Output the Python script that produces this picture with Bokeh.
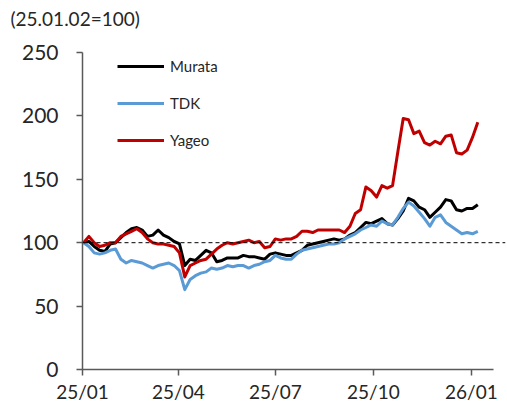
import pandas as pd
from bokeh.plotting import figure
from bokeh.models import (Span, Legend, LegendItem, FixedTicker, Title,
                          Range1d, DatetimeTickFormatter)
from bokeh.embed import file_html
from bokeh.resources import INLINE

# ---- data (index, 2025-01-02 = 100), sampled every 5 days ----
dates = pd.date_range("2025-01-02", periods=75, freq="5D")

murata = [100, 101, 97, 94, 93, 99, 100, 104, 108, 111,
          112, 110, 105, 106, 110, 106, 104, 101, 99, 82,
          87, 86, 90, 94, 92, 85, 86, 88, 88, 88,
          90, 89, 89, 88, 87, 91, 92, 91, 90, 90,
          92, 94, 98, 99, 100, 101, 102, 103, 102, 103,
          106, 108, 112, 116, 115, 117, 119, 115, 114, 119,
          125, 135, 133, 128, 126, 120, 124, 128, 134, 133,
          126, 125, 127, 127, 130]

tdk = [100, 97, 92, 91, 92, 94, 95, 87, 84, 86,
       85, 84, 82, 80, 82, 83, 84, 82, 78, 63,
       71, 74, 76, 77, 80, 79, 80, 82, 81, 82,
       82, 80, 82, 83, 85, 86, 90, 88, 87, 87,
       91, 94, 95, 96, 97, 98, 99, 99, 100, 103,
       105, 107, 110, 112, 114, 113, 117, 115, 114, 120,
       127, 132, 129, 124, 119, 113, 120, 122, 116, 113,
       110, 107, 108, 107, 109]

yageo = [100, 105, 100, 97, 98, 100, 100, 105, 107, 109,
         111, 108, 103, 100, 99, 99, 98, 97, 92, 73,
         82, 84, 86, 87, 91, 95, 98, 100, 99, 100,
         101, 102, 100, 101, 96, 97, 103, 102, 103, 103,
         105, 109, 109, 108, 110, 110, 110, 110, 110, 108,
         113, 123, 126, 144, 141, 136, 145, 143, 145, 172,
         198, 197, 186, 188, 179, 177, 180, 178, 184, 185,
         171, 170, 173, 183, 195]

series_names = ["Murata", "TDK", "Yageo"]
series_colors = ["#000000", "#5B9BD5", "#C00000"]

xtick_dates = ["2025-01-01", "2025-04-01", "2025-07-01", "2025-10-01", "2026-01-01"]
xtick_labels = ["25/01", "25/04", "25/07", "25/10", "26/01"]
ytick_values = [0, 50, 100, 150, 200, 250]
base_value = 100
header = "(25.01.02=100)"

FONT = "Lato"
TEXT = "#262626"
AXIS = "#595959"

x_start = pd.Timestamp("2025-01-01")
x_end = pd.Timestamp("2026-02-02")
axis_end = pd.Timestamp("2026-01-22")

p = figure(width=507, height=415, x_axis_type="datetime",
           x_range=Range1d(x_start, x_end), y_range=Range1d(0, 250),
           output_backend="svg", toolbar_location=None,
           min_border_left=82, min_border_right=2,
           min_border_top=52, min_border_bottom=46)

p.xgrid.visible = False
p.ygrid.visible = False
p.outline_line_color = None
p.background_fill_color = "white"
p.border_fill_color = "white"

renderers = []
for vals, name, col in zip([murata, tdk, yageo], series_names, series_colors):
    r = p.line(dates, vals, line_color=col, line_width=3, line_join="round")
    renderers.append(r)

p.add_layout(Span(location=base_value, dimension="width", line_color="#000000",
                  line_width=1, line_dash="4 3"))

# x axis
tick_ms = [pd.Timestamp(d).value // 10**6 for d in xtick_dates]
xa = p.xaxis[0]
xa.ticker = FixedTicker(ticks=tick_ms)
xa.formatter = DatetimeTickFormatter(days="%y/%m", months="%y/%m", years="%y/%m")
xa.major_label_overrides = {t: l for t, l in zip(tick_ms, xtick_labels)}
xa.bounds = (x_start, axis_end)

ya = p.yaxis[0]
ya.ticker = FixedTicker(ticks=ytick_values)

for ax in (xa, ya):
    ax.axis_line_color = AXIS
    ax.axis_line_width = 1.5
    ax.major_tick_line_color = AXIS
    ax.major_tick_line_width = 1.5
    ax.major_tick_out = 6
    ax.major_tick_in = 0
    ax.minor_tick_line_color = None
    ax.major_label_text_font = FONT
    ax.major_label_text_color = TEXT

ya.major_label_text_font_size = "21px"
ya.major_label_standoff = 18
xa.major_label_text_font_size = "19px"
xa.major_label_standoff = 4

legend = Legend(items=[LegendItem(label=n, renderers=[r]) for n, r in zip(series_names, renderers)],
                location=(35, 219), orientation="vertical",
                glyph_width=47, glyph_height=20, label_height=20, spacing=17,
                padding=0, margin=0, label_standoff=6,
                border_line_color=None, background_fill_alpha=0,
                label_text_font=FONT, label_text_font_size="15px",
                label_text_color=TEXT)
p.add_layout(legend)

# spacer panel between the frame and the header
p.add_layout(Title(text=" ", text_font_size="1px", standoff=12), "above")

p.title.text = header
p.title.align = "left"
p.title.vertical_align = "top"
p.title.offset = -72
p.title.standoff = 12
p.title.text_font = FONT
p.title.text_font_size = "19px"
p.title.text_font_style = "normal"
p.title.text_color = TEXT

open("out.html", "w").write(file_html(p, INLINE))
